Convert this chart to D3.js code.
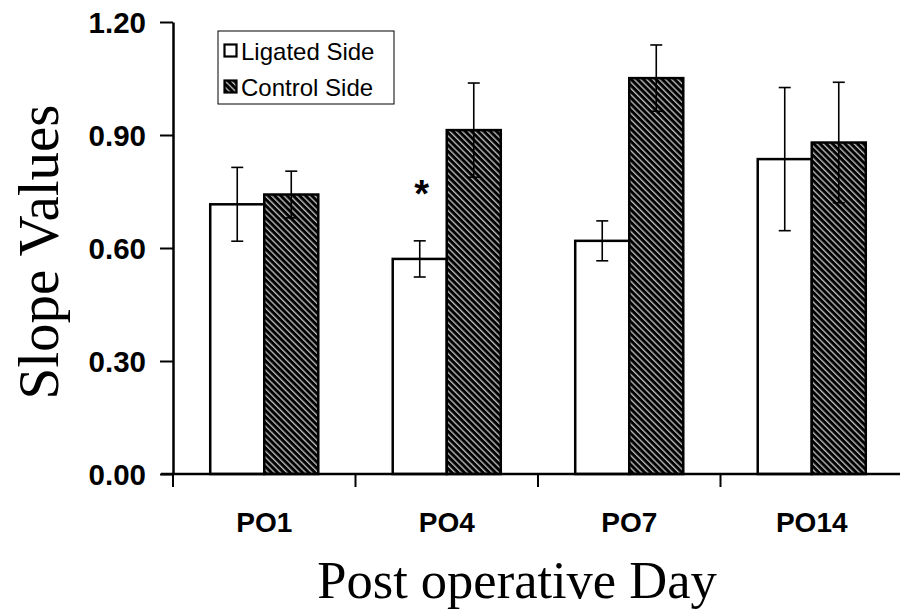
<!DOCTYPE html>
<html><head><meta charset="utf-8">
<script src="https://cdn.jsdelivr.net/npm/d3@7"></script>
<style>body{margin:0;background:#fff}svg{display:block}</style>
</head><body>
<svg id="c" width="900" height="611"></svg>
<script>
const categories = ["PO1","PO4","PO7","PO14"];
const seriesNames = ["Ligated Side","Control Side"];
const ligated = [0.716, 0.571, 0.619, 0.836];
const ligatedErr = [0.098, 0.048, 0.053, 0.190];
const control = [0.742, 0.913, 1.051, 0.880];
const controlErr = [0.062, 0.125, 0.088, 0.160];
const yTicks = [0, 0.3, 0.6, 0.9, 1.2];
const sigMarks = [{cat:"PO4", series:"Ligated Side", text:"*"}];

const svg = d3.select("#c");
const defs = svg.append("defs");
const pat = defs.append("pattern").attr("id","hatch").attr("patternUnits","userSpaceOnUse")
  .attr("width",4.4).attr("height",4.4).attr("patternTransform","rotate(-45)");
pat.append("rect").attr("width",4.4).attr("height",4.4).attr("fill","#000");
pat.append("rect").attr("x",0).attr("y",0).attr("width",1.4).attr("height",4.4).attr("fill","#b8b8b8");

const x0 = d3.scaleBand().domain(categories).range([173,903]).paddingInner(0.408).paddingOuter(0.204);
const x1 = d3.scaleBand().domain(seriesNames).range([0,x0.bandwidth()]);
const y = d3.scaleLinear().domain([0,1.2]).range([474,22]);

const data = categories.map((c,i)=>({cat:c, vals:[
  {s:"Ligated Side", v:ligated[i], e:ligatedErr[i]},
  {s:"Control Side", v:control[i], e:controlErr[i]}]}));

const g = svg.append("g");
data.forEach(d=>{
  d.vals.forEach(b=>{
    const bx = x0(d.cat)+x1(b.s);
    g.append("rect").attr("x",bx).attr("y",y(b.v)).attr("width",x1.bandwidth()).attr("height",y(0)-y(b.v))
      .attr("fill", b.s==="Ligated Side" ? "#fff" : "url(#hatch)")
      .attr("stroke","#000").attr("stroke-width",2.5);
  });
});
// error bars
data.forEach(d=>{
  d.vals.forEach(b=>{
    const cx = x0(d.cat)+x1(b.s)+x1.bandwidth()/2;
    const col = "#000";
    g.append("line").attr("x1",cx).attr("x2",cx).attr("y1",y(b.v+b.e)).attr("y2",y(b.v-b.e)).attr("stroke",col).attr("stroke-width",1.6);
    [b.v+b.e,b.v-b.e].forEach(t=>{
      g.append("line").attr("x1",cx-6).attr("x2",cx+6).attr("y1",y(t)).attr("y2",y(t)).attr("stroke",col).attr("stroke-width",1.6);
    });
  });
});
// significance
sigMarks.forEach(m=>{
  svg.append("text").attr("x",x0(m.cat)+x1(m.series)+x1.bandwidth()/2+2).attr("y",207).attr("text-anchor","middle")
    .attr("font-family","Arial, Liberation Sans, sans-serif").attr("font-weight","bold").attr("font-size",38).text(m.text);
});

// y axis
const yAxis = svg.append("g").attr("transform","translate(173,0)")
  .call(d3.axisLeft(y).tickValues(yTicks).tickFormat(d3.format(".2f")).tickSize(13).tickSizeOuter(0));
yAxis.select(".domain").attr("stroke","#000").attr("stroke-width",2.5);
yAxis.selectAll(".tick line").attr("stroke","#000").attr("stroke-width",2);
yAxis.selectAll(".tick text").attr("x",-27).attr("dy","0.36em")
  .attr("font-family","Arial, Liberation Sans, sans-serif").attr("font-weight","bold").attr("font-size",29.5).attr("fill","#000");

// x axis
svg.append("line").attr("x1",161).attr("x2",900).attr("y1",474).attr("y2",474).attr("stroke","#000").attr("stroke-width",2.5);
const step = x0.step();
const boundaries = categories.map(c=>x0(c)-step*x0.paddingInner()/2);
boundaries.forEach(bx=>{
  svg.append("line").attr("x1",bx).attr("x2",bx).attr("y1",474).attr("y2",487).attr("stroke","#000").attr("stroke-width",2);
});
categories.forEach(c=>{
  svg.append("text").attr("x",x0(c)+x0.bandwidth()/2).attr("y",532).attr("text-anchor","middle")
    .attr("font-family","Arial, Liberation Sans, sans-serif").attr("font-weight","bold").attr("font-size",28).text(c);
});

// titles
svg.append("text").attr("x",517).attr("y",598).attr("text-anchor","middle")
  .attr("font-family","Liberation Serif, Times New Roman, serif").attr("font-size",52.5).text("Post operative Day");
svg.append("text").attr("transform","translate(58,252) rotate(-90)").attr("text-anchor","middle")
  .attr("font-family","Liberation Serif, Times New Roman, serif").attr("font-size",57).text("Slope Values");

// legend
const lg = svg.append("g");
lg.append("rect").attr("x",218).attr("y",31).attr("width",176).attr("height",73).attr("fill","#fff").attr("stroke","#000").attr("stroke-width",1);
seriesNames.forEach((s,i)=>{
  const yy = 51 + i*36;
  lg.append("rect").attr("x",224.5).attr("y",yy-6.5).attr("width",12).attr("height",12)
    .attr("fill", i===0 ? "#fff" : "url(#hatch)").attr("stroke","#000").attr("stroke-width",2.2);
  lg.append("text").attr("x",241).attr("y",yy).attr("dy","0.36em")
    .attr("font-family","Arial, Liberation Sans, sans-serif").attr("font-size",24).text(s);
});
</script>
</body></html>
